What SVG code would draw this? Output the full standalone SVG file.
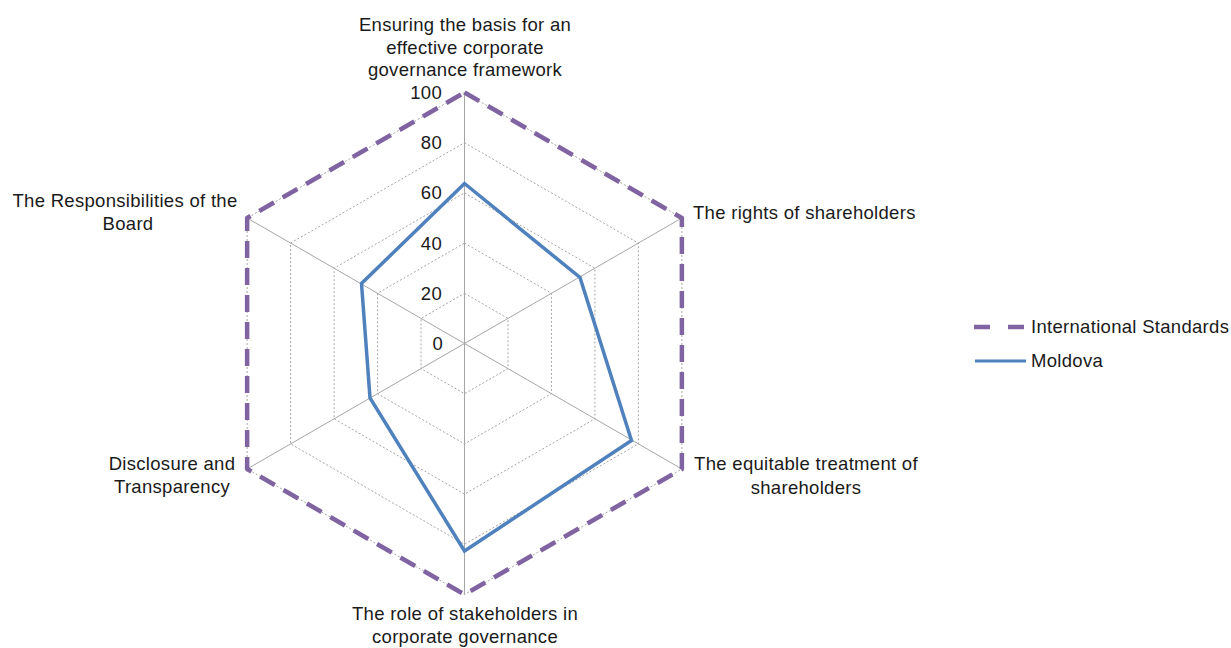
<svg xmlns="http://www.w3.org/2000/svg" width="1231" height="648" viewBox="0 0 1231 648">
  <style>
    text { font-family: "Liberation Sans", Arial, sans-serif; font-size: 18.5px; letter-spacing: 0.3px; fill: #1a1a1a; }
    .ring { fill: none; stroke: #a6a6a6; stroke-width: 1; stroke-dasharray: 2 2; }
    .spoke { stroke: #a6a6a6; stroke-width: 1; fill: none; }
    .intl { fill: none; stroke: #8064a2; stroke-width: 4.5; stroke-dasharray: 17 10; stroke-linejoin: round; }
    .mold { fill: none; stroke: #4f81bd; stroke-width: 3.5; stroke-linejoin: miter; }
    .tick { text-anchor: end; }
    .mid { text-anchor: middle; }
  </style>
  <rect width="1231" height="648" fill="#ffffff"/>

  <!-- radar grid: value rings at 20..100 and axis spokes -->
  <g id="grid">
    <polygon class="ring" points="464.5,293.3 507.97,318.4 507.97,368.6 464.5,393.7 421.03,368.6 421.03,318.4"/>
    <polygon class="ring" points="464.5,243.1 551.45,293.3 551.45,393.7 464.5,443.9 377.55,393.7 377.55,293.3"/>
    <polygon class="ring" points="464.5,192.9 594.92,268.2 594.92,418.8 464.5,494.1 334.08,418.8 334.08,268.2"/>
    <polygon class="ring" points="464.5,142.7 638.4,243.1 638.4,443.9 464.5,544.3 290.6,443.9 290.6,243.1"/>
    <polygon class="ring" points="464.5,92.5 681.87,218 681.87,469 464.5,594.5 247.13,469 247.13,218"/>
    <path class="spoke" d="M464.5,343.5 L464.5,92.5 M464.5,343.5 L681.87,218 M464.5,343.5 L681.87,469 M464.5,343.5 L464.5,594.5 M464.5,343.5 L247.13,469 M464.5,343.5 L247.13,218"/>
  </g>

  <!-- scale values -->
  <g id="ticks">
    <text class="tick" x="442" y="99">100</text>
    <text class="tick" x="442" y="149">80</text>
    <text class="tick" x="442" y="199">60</text>
    <text class="tick" x="442" y="250">40</text>
    <text class="tick" x="442" y="300">20</text>
    <text class="tick" x="443" y="350">0</text>
  </g>

  <!-- data series -->
  <g id="connectors">
    <polygon id="series-international" class="intl" points="464.5,92.5 681.87,218 681.87,469 464.5,594.5 247.13,469 247.13,218"/>
    <polygon id="series-moldova" class="mold" points="464.5,183.5 580,277.5 631.5,440.5 464.5,551 370,398 361.5,283.5"/>
  </g>

  <!-- axis labels -->
  <g id="axis-basis">
    <text class="mid" x="465" y="31">Ensuring the basis for an</text>
    <text class="mid" x="465" y="54">effective corporate</text>
    <text class="mid" x="465" y="76">governance framework</text>
  </g>
  <g id="axis-rights">
    <text x="693" y="219">The rights of shareholders</text>
  </g>
  <g id="axis-equitable">
    <text class="mid" x="806" y="470">The equitable treatment of</text>
    <text class="mid" x="806" y="494">shareholders</text>
  </g>
  <g id="axis-stakeholders">
    <text class="mid" x="465" y="620">The role of stakeholders in</text>
    <text class="mid" x="465" y="643">corporate governance</text>
  </g>
  <g id="axis-disclosure">
    <text class="mid" x="172" y="470">Disclosure and</text>
    <text class="mid" x="172" y="493">Transparency</text>
  </g>
  <g id="axis-board">
    <text class="mid" x="125" y="207">The Responsibilities of the</text>
    <text class="mid" x="128" y="230">Board</text>
  </g>

  <!-- legend -->
  <g id="legend">
    <line x1="974" y1="327" x2="1026" y2="327" stroke="#8064a2" stroke-width="4.5" stroke-dasharray="16 18"/>
    <text x="1031" y="333">International Standards</text>
    <line x1="975" y1="361" x2="1026" y2="361" stroke="#4f81bd" stroke-width="3"/>
    <text x="1031" y="367">Moldova</text>
  </g>
</svg>
